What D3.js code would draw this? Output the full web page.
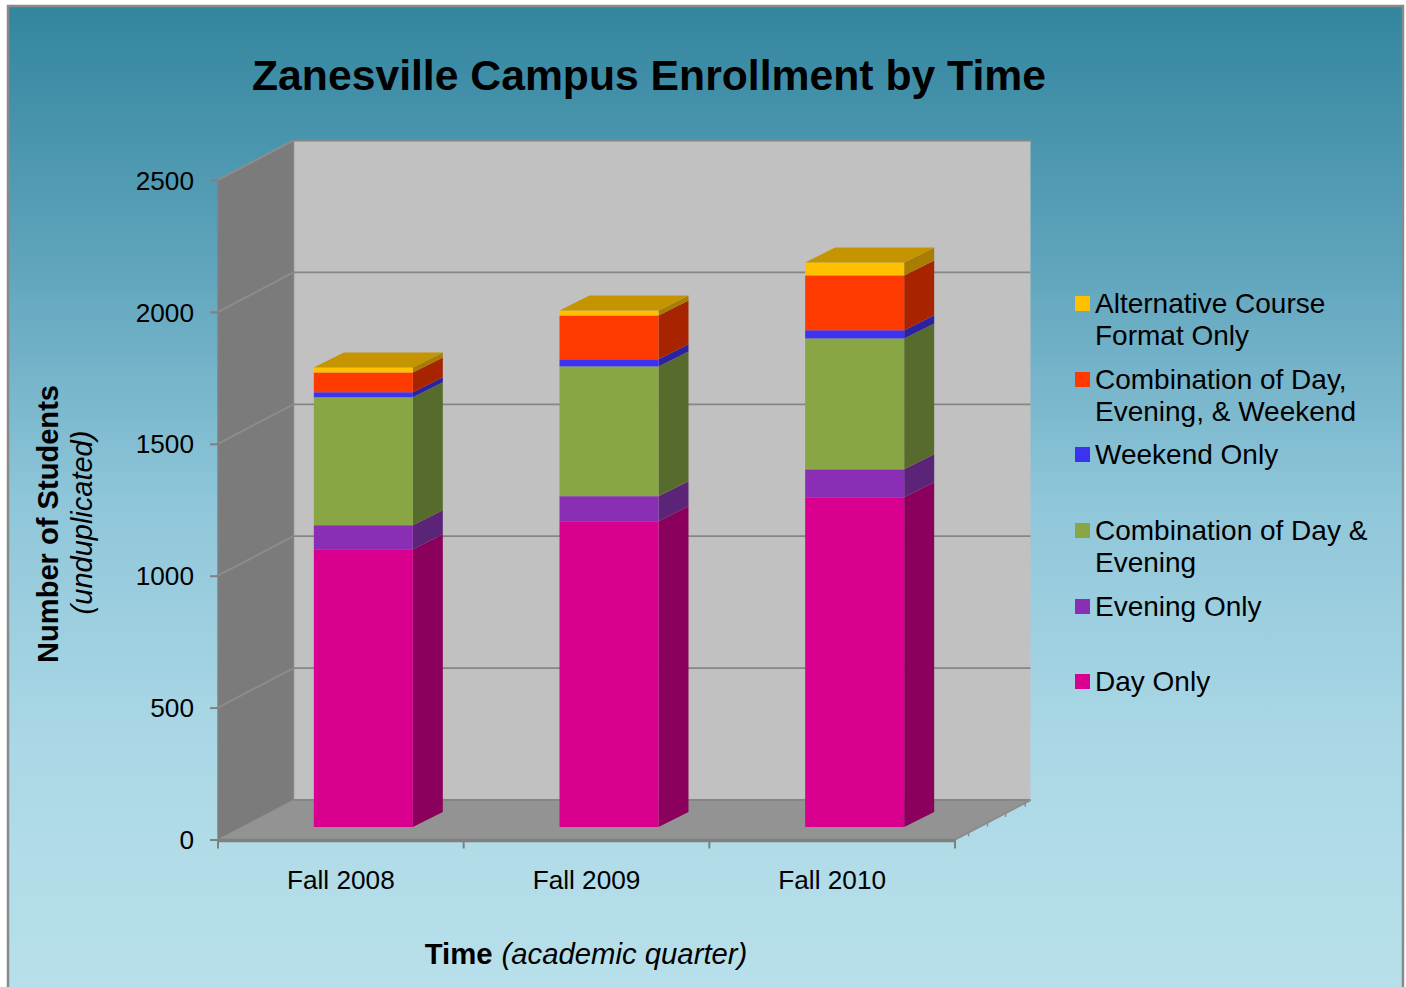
<!DOCTYPE html>
<html><head><meta charset="utf-8">
<script src="https://cdn.jsdelivr.net/npm/d3@7/dist/d3.min.js"></script>
<style>html,body{margin:0;padding:0;background:#fff;overflow:hidden}svg{display:block}text{font-family:"Liberation Sans",Arial,sans-serif;fill:#000}</style>
</head><body><svg id="c" width="1406" height="987"></svg>
<script>
const categories = ["Fall 2008","Fall 2009","Fall 2010"];
const seriesNames = ["Day Only","Evening Only","Combination of Day & Evening","Weekend Only","Combination of Day, Evening, & Weekend","Alternative Course Format Only"];
const dayOnly = [1053,1159,1250];
const eveningOnly = [91,95,106];
const dayEvening = [485,492,496];
const weekendOnly = [19,27,31];
const dayEveningWeekend = [75,166,208];
const alternative = [19,19,49];
const frontColors = ["#d9008f","#8a2fb5","#88a644","#3c33ee","#ff3a00","#ffc000"];
const sideColors = ["#8b005c","#5b2478","#576b2c","#2c22a0","#a82400","#a87d00"];
const topColor = "#c49500";
const legendOrder = [
  {i:5,lines:["Alternative Course","Format Only"],y:304},
  {i:4,lines:["Combination of Day,","Evening, & Weekend"],y:380},
  {i:3,lines:["Weekend Only"],y:455},
  {i:2,lines:["Combination of Day &","Evening"],y:531},
  {i:1,lines:["Evening Only"],y:607},
  {i:0,lines:["Day Only"],y:682}
];
const ticks = [0,500,1000,1500,2000,2500];
const columns = [dayOnly,eveningOnly,dayEvening,weekendOnly,dayEveningWeekend,alternative];
const rows = categories.map((c,k)=>{const r={cat:c};seriesNames.forEach((s,j)=>r[s]=columns[j][k]);return r;});
const stacked = d3.stack().keys(seriesNames)(rows);

const svg=d3.select("#c");
const defs=svg.append("defs");
const g=defs.append("linearGradient").attr("id","bg").attr("x1",0).attr("x2",0).attr("y1",0).attr("y2",1);
[[0,"#33859e"],[0.25,"#5da3bb"],[0.5,"#8fc6d9"],[0.75,"#abd8e6"],[1,"#b8e0ea"]].forEach(s=>g.append("stop").attr("offset",s[0]).attr("stop-color",s[1]));
svg.append("rect").attr("x",8).attr("y",6).attr("width",1395).attr("height",990).attr("fill","url(#bg)").attr("stroke","#8a8a8a").attr("stroke-width",2.5);

const x=d3.scaleBand().domain(categories).range([218,955]);
const y=d3.scaleLinear().domain([0,2500]).range([839.5,180]);
const depth={dx:75.5,dy:-39.5};
const barOff={dx:22.5,dy:-12.5}, barDepth={dx:30,dy:-15};
const bw=99;
const poly=pts=>pts.map(p=>p.join(",")).join(" ");

// walls
svg.append("polygon").attr("points",poly([[218,y(0)],[218,y(2500)],[218+depth.dx,y(2500)+depth.dy],[218+depth.dx,y(0)+depth.dy]])).attr("fill","#7b7b7b");
svg.append("polygon").attr("points",poly([[218+depth.dx,y(0)+depth.dy],[218+depth.dx,y(2500)+depth.dy],[955+depth.dx,y(2500)+depth.dy],[955+depth.dx,y(0)+depth.dy]])).attr("fill","#c1c1c1");
svg.append("polygon").attr("points",poly([[218,y(0)],[955,y(0)],[955+depth.dx,y(0)+depth.dy],[218+depth.dx,y(0)+depth.dy]])).attr("fill","#939393");

// grid
ticks.forEach(t=>{
  const yy=y(t);
  svg.append("line").attr("x1",218).attr("y1",yy).attr("x2",218+depth.dx).attr("y2",yy+depth.dy).attr("stroke","#8c8c8c").attr("stroke-width",t===0?1:2);
  svg.append("line").attr("x1",218+depth.dx).attr("y1",yy+depth.dy).attr("x2",955+depth.dx).attr("y2",yy+depth.dy).attr("stroke","#868686").attr("stroke-width",1.8);
});
svg.append("line").attr("x1",218+depth.dx).attr("y1",y(2500)+depth.dy).attr("x2",218+depth.dx).attr("y2",y(0)+depth.dy).attr("stroke","#868686").attr("stroke-width",1.5);
svg.append("line").attr("x1",955).attr("y1",y(0)).attr("x2",955+depth.dx).attr("y2",y(0)+depth.dy).attr("stroke","#8c8c8c").attr("stroke-width",2);
// small depth ticks along the floor edge
[0.18,0.43,0.67,0.93].forEach(f=>{
  const px=955+f*depth.dx, py=y(0)+f*depth.dy;
  svg.append("line").attr("x1",px).attr("y1",py).attr("x2",px).attr("y2",py+4).attr("stroke","#8c8c8c").attr("stroke-width",1.5);
});

// bars
categories.forEach((c,k)=>{
  const x0=x(c)+x.bandwidth()/2-bw/2+barOff.dx, x1=x0+bw;
  stacked.forEach((ser,j)=>{
    const d=ser[k];
    const yb=y(d[0])+barOff.dy, yt=y(d[1])+barOff.dy;
    svg.append("polygon").attr("points",poly([[x1,yb],[x1,yt],[x1+barDepth.dx,yt+barDepth.dy],[x1+barDepth.dx,yb+barDepth.dy]])).attr("fill",sideColors[j]);
    svg.append("rect").attr("x",x0).attr("y",yt).attr("width",bw).attr("height",yb-yt).attr("fill",frontColors[j]);
  });
  const top=y(stacked[5][k][1])+barOff.dy;
  svg.append("polygon").attr("points",poly([[x0,top],[x1,top],[x1+barDepth.dx,top+barDepth.dy],[x0+barDepth.dx,top+barDepth.dy]])).attr("fill",topColor);
});

// axes
const ax=svg.append("g").attr("transform","translate(218,0)").call(d3.axisLeft(y).tickValues(ticks).tickSize(8).tickPadding(16).tickFormat(d3.format("d")));
const bx=svg.append("g").attr("transform",`translate(0,${y(0)})`).call(d3.axisBottom(x).tickSize(0).tickPadding(28));
[ax,bx].forEach(a=>{a.selectAll("path").attr("stroke","#808080").attr("stroke-width",3.5);a.selectAll("line").attr("stroke","#808080").attr("stroke-width",2);a.selectAll("text").attr("font-size",26.2).style("font-family",'"Liberation Sans",Arial,sans-serif').attr("fill","#000");});
ax.select("path").attr("d",`M0,${y(0)}V${y(2500)}`).attr("stroke-width",1.5);
bx.select("path").attr("d",`M218,1H955`);
bx.selectAll("text").attr("y",31).attr("dy","0.71em");
ax.selectAll("text").attr("dy","0.35em");
d3.range(4).forEach(i=>{
  const px=218+i*x.bandwidth();
  bx.append("line").attr("x1",px).attr("x2",px).attr("y1",0).attr("y2",9).attr("stroke","#808080").attr("stroke-width",2);
});

// title
svg.append("text").attr("x",649).attr("y",90).attr("text-anchor","middle").attr("font-size",42.7).attr("font-weight","bold").text("Zanesville Campus Enrollment by Time");
// y title
svg.append("text").attr("transform","translate(58,524) rotate(-90)").attr("text-anchor","middle").attr("font-size",29.1).attr("font-weight","bold").text("Number of Students");
svg.append("text").attr("transform","translate(92,522.5) rotate(-90)").attr("text-anchor","middle").attr("font-size",29).attr("font-style","italic").text("(unduplicated)");
// x title
const xt=svg.append("text").attr("x",586).attr("y",964).attr("text-anchor","middle").attr("font-size",29.3);
xt.append("tspan").attr("font-weight","bold").text("Time");
xt.append("tspan").attr("font-style","italic").attr("dx",9).text("(academic quarter)");

// legend
legendOrder.forEach(l=>{
  svg.append("rect").attr("x",1075).attr("y",l.y-8).attr("width",15).attr("height",15).attr("fill",frontColors[l.i]);
  l.lines.forEach((t,n)=>svg.append("text").attr("x",1095).attr("y",l.y+9+n*32).attr("font-size",28).text(t));
});
</script></body></html>
